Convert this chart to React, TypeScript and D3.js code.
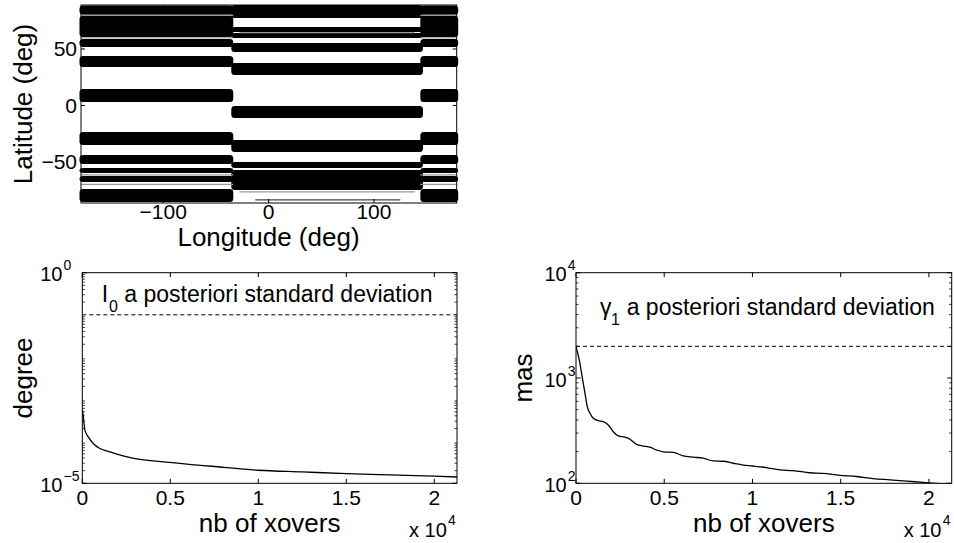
import React from 'react';
import * as d3 from 'd3';

// ---------- data ----------
const lonTicks = [-100, 0, 100];
const latTicks = [-50, 0, 50];
// latitude bands [min,max] drawn over the outer longitudes (west of step and east of step)
const outerBands: [number, number][] = [
  [80.3, 88.5], [60.5, 79.3], [51.8, 58.8], [34.1, 43.8], [3.1, 14.6],
  [-35, -23.5], [-51.8, -43.8], [-59.7, -55.3], [-67.7, -62.4], [-85.4, -73.9],
];
// latitude bands over the inner longitudes
const innerBands: [number, number][] = [
  [77.4, 88.9], [65, 69.5], [59.7, 64.2], [47.3, 55.3], [27, 37.6],
  [-11, -0.4], [-41.2, -30.5], [-55.3, -50], [-74.8, -57],
];
const outerLines = [79.8, 59.8, -61.5, -69.8];
const innerLines = [64.5, -76.5];
const innerTrackLat = -83.6;
const innerTrackLon = [-12.6, 125];
const outerWestEnd = -33.5;
const outerEastStart = 144;
const innerLon = [-35.4, 146.5];

const xTicksN = [0, 5000, 10000, 15000, 20000];
const xTickLabels = ['0', '0.5', '1', '1.5', '2'];

const xoversI = [0, 40, 150, 340, 620, 1000, 1480, 2430, 3380, 4320, 5270, 6220, 7350, 10000, 12500, 15000, 17500, 20000, 21300];
const i0Sigma = [5.6e-4, 4.4e-4, 1.8e-4, 1.26e-4, 8.8e-5, 6.7e-5, 5.75e-5, 4.37e-5, 3.63e-5, 3.33e-5, 3.04e-5, 2.79e-5, 2.54e-5, 2.04e-5, 1.86e-5, 1.7e-5, 1.58e-5, 1.48e-5, 1.41e-5];
const i0Prior = 0.1;
const i0Exps = [-5, 0];

const xoversG = [0, 187, 380, 510, 640, 793, 980, 1263, 1546, 1829, 2112, 2395, 2775, 3058, 3435, 3813, 4190, 4567, 4944, 5510, 6076, 6642, 7208, 7774, 8340, 8907, 9473, 10000, 10790, 11550, 12300, 13250, 14000, 14950, 15900, 16830, 17780, 18730, 19670, 20420, 21290];
const g1Sigma = [1980, 1480, 955, 716, 535, 462, 414, 393, 385, 358, 309, 282, 274, 262, 234, 226, 220, 207, 199, 197, 182, 177, 173, 163, 162, 155, 149, 146, 141, 134, 132, 126, 124, 119, 116, 111, 108, 105, 102, 100, 99];
const g1Prior = 2000;
const g1Exps = [2, 3, 4];

const FONT = '"Liberation Sans", Arial, Helvetica, sans-serif';

function Frame({ x0, x1, y0, y1 }: any) {
  return <rect x={x0} y={y0} width={x1 - x0} height={y1 - y0} fill="none" stroke="#000" strokeWidth={1} />;
}

function MapPanel() {
  const x0 = 81, x1 = 456.7, y0 = 5, y1 = 203;
  const xs = d3.scaleLinear().domain([-178, 178.5]).range([x0, x1]);
  const ys = d3.scaleLinear().domain([-86.3, 88.9]).range([y1, y0]);
  const r = 3.5;
  const band = (lo: number, hi: number, lonA: number, lonB: number, key: string) => {
    const xa = Math.max(xs(lonA), x0 - 1.5);
    const xb = Math.min(xs(lonB), x1 + 1.5);
    return <rect key={key} x={xa} y={ys(hi)} width={xb - xa} height={ys(lo) - ys(hi)} rx={r} ry={r} fill="#000" />;
  };
  return (
    <g>
      {outerBands.map(([lo, hi], i) => band(lo, hi, -185, outerWestEnd, 'ow' + i))}
      {outerBands.map(([lo, hi], i) => band(lo, hi, outerEastStart, 185, 'oe' + i))}
      {innerBands.map(([lo, hi], i) => band(lo, hi, innerLon[0], innerLon[1], 'in' + i))}
      {outerLines.map((l, i) => (
        <g key={'ol' + i}>
          <line x1={x0} x2={xs(outerWestEnd)} y1={ys(l)} y2={ys(l)} stroke="#999" strokeWidth={1.2} />
          <line x1={xs(outerEastStart)} x2={x1} y1={ys(l)} y2={ys(l)} stroke="#999" strokeWidth={1.2} />
        </g>
      ))}
      {innerLines.map((l, i) => (
        <line key={'il' + i} x1={xs(innerLon[0]) + 8} x2={xs(innerLon[1]) - 8} y1={ys(l)} y2={ys(l)} stroke="#999" strokeWidth={1.2} />
      ))}
      <line x1={xs(innerTrackLon[0])} x2={xs(innerTrackLon[1])} y1={ys(innerTrackLat)} y2={ys(innerTrackLat)} stroke="#444" strokeWidth={1.3} />
      <rect x={x0} y={y0} width={x1 - x0} height={y1 - y0} fill="none" stroke="#000" strokeWidth={1} />
      {lonTicks.map((t) => (
        <g key={'lx' + t}>
          <line x1={xs(t)} x2={xs(t)} y1={y1} y2={y1 - 4} stroke="#000" />
          <line x1={xs(t)} x2={xs(t)} y1={y0} y2={y0 + 4} stroke="#000" />
          <text x={xs(t)} y={219} textAnchor="middle" fontSize={21} fontFamily={FONT}>{t < 0 ? '\u2212' + Math.abs(t) : String(t)}</text>
        </g>
      ))}
      {latTicks.map((t) => (
        <g key={'ly' + t}>
          <line x1={x0} x2={x0 + 4} y1={ys(t)} y2={ys(t)} stroke="#000" />
          <line x1={x1} x2={x1 - 4} y1={ys(t)} y2={ys(t)} stroke="#000" />
          <text x={77} y={ys(t) + 7.5} textAnchor="end" fontSize={21} fontFamily={FONT}>{t < 0 ? '\u2212' + Math.abs(t) : String(t)}</text>
        </g>
      ))}
      <text x={268.5} y={246} textAnchor="middle" fontSize={26} fontFamily={FONT}>Longitude (deg)</text>
      <text transform={`translate(32,104) rotate(-90)`} textAnchor="middle" fontSize={26} fontFamily={FONT}>Latitude (deg)</text>
    </g>
  );
}

function LogPanel({ x0, x1, y0, y1, xsData, ysData, prior, exps, yLabel, labelX, tenEnd, sym, sub, symX, subX, textX, textBase, subBase }: any) {
  const xs = d3.scaleLinear().domain([0, 21290]).range([x0, x1]);
  const lo = Math.min(...exps), hi = Math.max(...exps);
  const ys = d3.scaleLog().domain([Math.pow(10, lo), Math.pow(10, hi)]).range([y1, y0]);
  const line = d3.line<number>().x((_, i) => xs(xsData[i])).y((d) => ys(d)).curve(d3.curveMonotoneX);
  const minor: number[] = [];
  for (let e = lo; e < hi; e++) {
    for (let k = 2; k <= 9; k++) minor.push(k * Math.pow(10, e));
  }
  const clipId = 'clip' + Math.round(x0);
  const expStr = (e: number) => (e < 0 ? '\u2212' + Math.abs(e) : String(e));
  return (
    <g>
      <defs>
        <clipPath id={clipId}><rect x={x0} y={y0} width={x1 - x0} height={y1 - y0} /></clipPath>
      </defs>
      <line x1={x0} x2={x1} y1={ys(prior)} y2={ys(prior)} stroke="#000" strokeWidth={1} strokeDasharray="4,3" />
      <path d={line(ysData) as string} fill="none" stroke="#000" strokeWidth={1.3} clipPath={`url(#${clipId})`} />
      <Frame x0={x0} x1={x1} y0={y0} y1={y1} />
      {minor.map((m, i) => (
        <g key={'m' + i}>
          <line x1={x0} x2={x0 + 2.5} y1={ys(m)} y2={ys(m)} stroke="#000" strokeWidth={0.8} />
          <line x1={x1} x2={x1 - 2.5} y1={ys(m)} y2={ys(m)} stroke="#000" strokeWidth={0.8} />
        </g>
      ))}
      {exps.map((e: number) => {
        const y = ys(Math.pow(10, e));
        return (
          <g key={'e' + e}>
            <line x1={x0} x2={x0 + 4.5} y1={y} y2={y} stroke="#000" />
            <line x1={x1} x2={x1 - 4.5} y1={y} y2={y} stroke="#000" />
            <text x={tenEnd} y={y + 8.5} textAnchor="end" fontSize={20} fontFamily={FONT}>10</text>
            <text x={tenEnd + 1} y={y - 2.5} textAnchor="start" fontSize={14} fontFamily={FONT}>{expStr(e)}</text>
          </g>
        );
      })}
      {xTicksN.map((t, i) => (
        <g key={'x' + t}>
          <line x1={xs(t)} x2={xs(t)} y1={y1} y2={y1 - 4.5} stroke="#000" />
          <line x1={xs(t)} x2={xs(t)} y1={y0} y2={y0 + 4.5} stroke="#000" />
          <text x={xs(t)} y={505} textAnchor="middle" fontSize={21} fontFamily={FONT}>{xTickLabels[i]}</text>
        </g>
      ))}
      <text x={(x0 + x1) / 2} y={532} textAnchor="middle" fontSize={26} fontFamily={FONT}>nb of xovers</text>
      <text x={x1 - 48} y={537} fontSize={20} fontFamily={FONT}>x 10</text>
      <text x={x1 - 9} y={525} fontSize={14} fontFamily={FONT}>4</text>
      <text transform={`translate(${labelX},${(y0 + y1) / 2}) rotate(-90)`} textAnchor="middle" fontSize={26} fontFamily={FONT}>{yLabel}</text>
      <text x={symX} y={textBase} fontSize={23} fontFamily={FONT}>{sym}</text>
      <text x={subX} y={subBase} fontSize={16} fontFamily={FONT}>{sub}</text>
      <text x={textX} y={textBase} fontSize={23} fontFamily={FONT}>a posteriori standard deviation</text>
    </g>
  );
}

export default function App() {
  return (
    <svg width={954} height={543} style={{ position: 'absolute', left: 0, top: 0, background: '#fff' }}>
      <rect x={0} y={0} width={954} height={543} fill="#fff" />
      <MapPanel />
      <LogPanel x0={82.3} x1={457} y0={272.7} y1={483.3} xsData={xoversI} ysData={i0Sigma} prior={i0Prior} exps={i0Exps}
        yLabel="degree" labelX={32} tenEnd={62.5} sym="I" sub="0" symX={101.7} subX={109} textX={124.3} textBase={301.7} subBase={311.7} />
      <LogPanel x0={576} x1={951.7} y0={272.7} y1={483.3} xsData={xoversG} ysData={g1Sigma} prior={g1Prior} exps={g1Exps}
        yLabel="mas" labelX={532} tenEnd={566.7} sym={'\u03B3'} sub="1" symX={600} subX={611} textX={626.7} textBase={314.5} subBase={325} />
    </svg>
  );
}
